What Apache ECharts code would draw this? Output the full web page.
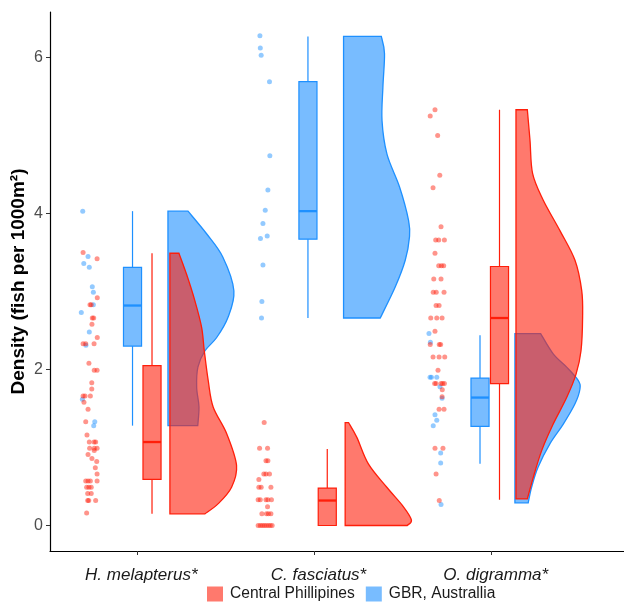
<!DOCTYPE html>
<html>
<head>
<meta charset="utf-8">
<script src="https://cdn.jsdelivr.net/npm/echarts@6/dist/echarts.min.js"></script>
<style>
  html, body { margin: 0; background: #fff; }
  #chart { width: 624px; height: 603px; }
</style>
</head>
<body>
<div id="chart"></div>
<script>
// categories and groups
const categories = ['H. melapterus*', 'C. fasciatus*', 'O. digramma*'];
const groups = ['Central Phillipines', 'GBR, Australlia'];
const yTicks = [0, 2, 4, 6];

// boxplot stats per category: [low, q1, median, q3, high]
const cpBox = [[0.15, 0.59, 1.07, 2.05, 3.49], [0, 0, 0.32, 0.48, 0.98], [0.33, 1.82, 2.66, 3.32, 5.33]];
const gbrBox = [[1.28, 2.30, 2.82, 3.31, 4.03], [2.66, 3.67, 4.03, 5.69, 6.27], [0.79, 1.27, 1.64, 1.89, 2.44]];

// half violin outlines, top to bottom: [density value, width in category units]
const cpViolin = [
  [[3.49, 0.051], [3.22, 0.094], [2.88, 0.141], [2.54, 0.179], [2.24, 0.194], [1.86, 0.216], [1.52, 0.244], [1.18, 0.320], [0.77, 0.376], [0.49, 0.348], [0.28, 0.273], [0.15, 0.198]],
  [[1.32, 0.019], [1.13, 0.066], [0.79, 0.131], [0.49, 0.235], [0.24, 0.329], [0.07, 0.374], [0, 0.350]],
  [[5.33, 0.064], [4.94, 0.079], [4.51, 0.094], [4.17, 0.154], [3.78, 0.248], [3.40, 0.333], [3.01, 0.371], [2.67, 0.376], [2.24, 0.367], [1.94, 0.339], [1.64, 0.286], [1.30, 0.210], [0.96, 0.145], [0.62, 0.098], [0.34, 0.064]]
];
const gbrViolin = [
  [[4.03, 0.113], [3.74, 0.218], [3.44, 0.310], [3.01, 0.372], [2.67, 0.339], [2.41, 0.275], [2.24, 0.209], [2.03, 0.169], [1.77, 0.162], [1.52, 0.175], [1.28, 0.168]],
  [[6.27, 0.213], [6.05, 0.231], [5.62, 0.222], [5.19, 0.217], [4.76, 0.245], [4.34, 0.316], [3.91, 0.367], [3.70, 0.372], [3.40, 0.348], [3.06, 0.292], [2.66, 0.207]],
  [[2.46, 0.145], [2.20, 0.216], [2.03, 0.292], [1.86, 0.357], [1.75, 0.367], [1.56, 0.339], [1.30, 0.273], [1.05, 0.198], [0.75, 0.131], [0.49, 0.094], [0.29, 0.075]]
];

// jittered raw points [x, density]
const cpPoints = [
  [0.694, 3.50], [0.773, 3.42], [0.774, 2.92], [0.733, 2.83], [0.740, 2.83], [0.746, 2.66], [0.754, 2.66], [0.744, 2.58],
  [0.774, 2.41], [0.694, 2.33], [0.709, 2.33], [0.756, 2.33], [0.727, 2.08], [0.757, 1.99], [0.773, 1.99], [0.743, 1.83],
  [0.743, 1.75], [0.694, 1.66], [0.705, 1.66], [0.735, 1.66], [0.699, 1.58], [0.722, 1.49], [0.709, 1.33], [0.716, 1.16],
  [0.729, 1.07], [0.756, 1.07], [0.765, 1.07], [0.731, 0.99], [0.757, 0.99], [0.773, 0.99], [0.757, 0.96], [0.722, 0.91],
  [0.744, 0.86], [0.771, 0.82], [0.763, 0.74], [0.773, 0.66], [0.709, 0.57], [0.722, 0.57], [0.735, 0.57], [0.773, 0.57],
  [0.714, 0.49], [0.727, 0.49], [0.740, 0.49], [0.720, 0.41], [0.740, 0.41], [0.720, 0.32], [0.726, 0.32], [0.765, 0.32],
  [0.714, 0.16],
  [1.716, 1.32], [1.690, 0.99], [1.735, 0.99], [1.726, 0.83], [1.737, 0.83], [1.714, 0.66], [1.726, 0.66], [1.746, 0.66],
  [1.686, 0.59], [1.686, 0.49], [1.699, 0.49], [1.754, 0.49], [1.682, 0.33], [1.694, 0.33], [1.726, 0.33], [1.737, 0.33],
  [1.757, 0.33], [1.735, 0.24], [1.703, 0.15], [1.729, 0.15], [1.740, 0.15], [1.754, 0.15],
  [1.682, 0], [1.694, 0], [1.705, 0], [1.716, 0], [1.727, 0], [1.739, 0], [1.750, 0], [1.761, 0],
  [2.680, 5.33], [2.653, 5.25], [2.695, 5.00], [2.707, 4.49], [2.669, 4.33], [2.714, 3.83], [2.684, 3.66], [2.701, 3.66],
  [2.733, 3.66], [2.680, 3.49], [2.701, 3.33], [2.716, 3.33], [2.729, 3.33], [2.673, 3.16], [2.714, 3.16], [2.670, 2.99],
  [2.687, 2.99], [2.731, 2.99], [2.686, 2.82], [2.703, 2.82], [2.656, 2.66], [2.690, 2.66], [2.720, 2.66], [2.680, 2.49],
  [2.653, 2.32], [2.704, 2.32], [2.712, 2.32], [2.669, 2.16], [2.703, 2.16], [2.735, 2.16], [2.697, 1.99], [2.678, 1.82],
  [2.686, 1.82], [2.714, 1.82], [2.723, 1.82], [2.733, 1.82], [2.721, 1.74], [2.720, 1.65], [2.703, 1.49], [2.731, 1.49],
  [2.680, 0.99], [2.725, 0.99], [2.686, 0.66], [2.704, 0.32]
];
const gbrPoints = [
  [0.692, 4.03], [0.722, 3.45], [0.698, 3.36], [0.729, 3.31], [0.746, 3.06], [0.752, 2.99], [0.752, 2.83], [0.684, 2.73],
  [0.729, 2.48], [0.710, 2.31], [0.690, 1.62], [0.760, 1.33], [0.754, 1.28],
  [1.692, 6.28], [1.694, 6.12], [1.699, 6.03], [1.746, 5.69], [1.748, 4.74], [1.737, 4.30], [1.722, 4.04], [1.709, 3.87],
  [1.733, 3.71], [1.695, 3.68], [1.709, 3.34], [1.703, 2.87], [1.701, 2.66],
  [2.646, 2.46], [2.654, 2.35], [2.652, 1.90], [2.660, 1.90], [2.690, 1.90], [2.708, 1.78], [2.720, 1.63], [2.680, 1.42],
  [2.690, 1.35], [2.670, 1.28], [2.712, 0.93], [2.712, 0.80], [2.714, 0.27]
];

// colours and layout
const cpLine = '#ff1e0a', cpFill = 'rgba(255,32,12,0.6)';
const gbrLine = '#1e90ff', gbrFill = 'rgba(30,144,255,0.6)';
const boxHalf = 0.051;
const cpBoxOff = [0.083, 0.072, 0.044], gbrBoxOff = [-0.027, -0.037, -0.066];
const cpViolinOff = [0.184, 0.173, 0.137], gbrViolinOff = [0.173, 0.164, 0.131];

function smoothEdge(pts) {
  // catmull-rom through the outline points, as cubic beziers
  let d = '';
  for (let k = 0; k < pts.length - 1; k++) {
    const p0 = pts[Math.max(k - 1, 0)], p1 = pts[k], p2 = pts[k + 1], p3 = pts[Math.min(k + 2, pts.length - 1)];
    const c1 = [p1[0] + (p2[0] - p0[0]) / 6, p1[1] + (p2[1] - p0[1]) / 6];
    const c2 = [p2[0] - (p3[0] - p1[0]) / 6, p2[1] - (p3[1] - p1[1]) / 6];
    d += 'C' + c1[0] + ',' + c1[1] + ' ' + c2[0] + ',' + c2[1] + ' ' + p2[0] + ',' + p2[1];
  }
  return d;
}

function violinSeries(name, profiles, offs, line, fill) {
  return {
    type: 'custom', name: name, z: 2,
    itemStyle: { color: fill },
    data: profiles.map((p, i) => [i + 1, p[0][0]]),
    renderItem: function (params, api) {
      const i = params.dataIndex;
      const prof = profiles[i];
      const bx = i + 1 + offs[i];
      const pts = prof.map(d => api.coord([bx + d[1], d[0]]));
      const top = api.coord([bx, prof[0][0]]);
      const bot = api.coord([bx, prof[prof.length - 1][0]]);
      const path = 'M' + top[0] + ',' + top[1] + 'L' + pts[0][0] + ',' + pts[0][1] +
        smoothEdge(pts) + 'L' + bot[0] + ',' + bot[1] + 'Z';
      return { type: 'path', shape: { pathData: path }, style: { fill: fill, stroke: line, lineWidth: 1.3 } };
    }
  };
}

function boxSeries(name, stats, offs, line, fill) {
  return {
    type: 'custom', name: name, z: 3,
    itemStyle: { color: fill },
    data: stats.map((s, i) => [i + 1, s[2]]),
    renderItem: function (params, api) {
      const i = params.dataIndex;
      const s = stats[i];
      const cx = i + 1 + offs[i];
      const p = s.map(v => api.coord([cx, v]));
      const xl = api.coord([cx - boxHalf, 0])[0], xr = api.coord([cx + boxHalf, 0])[0];
      const ln = { stroke: line, lineWidth: 1.2 };
      return {
        type: 'group', children: [
          { type: 'line', shape: { x1: p[0][0], y1: p[0][1], x2: p[1][0], y2: p[1][1] }, style: ln },
          { type: 'line', shape: { x1: p[3][0], y1: p[3][1], x2: p[4][0], y2: p[4][1] }, style: ln },
          { type: 'rect', shape: { x: xl, y: p[3][1], width: xr - xl, height: p[1][1] - p[3][1] }, style: { fill: fill, stroke: line, lineWidth: 1.2 } },
          { type: 'line', shape: { x1: xl, y1: p[2][1], x2: xr, y2: p[2][1] }, style: { stroke: line, lineWidth: 2.3 } }
        ]
      };
    }
  };
}

let mychart = echarts.init(document.getElementById('chart'));
mychart.setOption({
  animation: false,
  grid: { left: 50, right: 0, top: 12, bottom: 52 },
  legend: {
    data: groups,
    left: 207, top: 586, padding: 0,
    icon: 'rect', itemWidth: 16, itemHeight: 15, itemGap: 11,
    itemStyle: { borderWidth: 0 },
    textStyle: { fontFamily: 'Liberation Sans', fontSize: 15.6, color: '#1a1a1a', padding: [0, 0, 0, 2] }
  },
  xAxis: {
    type: 'value', min: 0.5073, max: 3.7466,
    splitLine: { show: false },
    axisLine: { show: true, onZero: false, lineStyle: { color: '#000', width: 1.2 } },
    axisTick: { show: true, length: 4, customValues: [1, 2, 3], lineStyle: { color: '#333' } },
    axisLabel: {
      customValues: [1, 2, 3], margin: 16, padding: [0, 0, 0, 8],
      formatter: v => categories[Math.round(v) - 1] || '',
      fontFamily: 'Liberation Sans', fontStyle: 'italic', fontSize: 17, color: '#1a1a1a'
    }
  },
  yAxis: {
    type: 'value', min: -0.327, max: 6.583,
    name: 'Density (fish per 1000m²)', nameLocation: 'middle', nameGap: 22, nameMoveOverlap: false,
    nameTextStyle: { fontFamily: 'Liberation Sans', fontWeight: 'bold', fontSize: 19, color: '#000' },
    splitLine: { show: false },
    axisLine: { show: true, onZero: false, lineStyle: { color: '#000', width: 1.2 } },
    axisTick: { show: true, length: 4, customValues: yTicks, lineStyle: { color: '#333' } },
    axisLabel: { customValues: yTicks, margin: 7, fontFamily: 'Liberation Sans', fontSize: 16, color: '#4d4d4d' }
  },
  series: [
    violinSeries(groups[1], gbrViolin, gbrViolinOff, gbrLine, gbrFill),
    violinSeries(groups[0], cpViolin, cpViolinOff, cpLine, cpFill),
    boxSeries(groups[1], gbrBox, gbrBoxOff, gbrLine, gbrFill),
    boxSeries(groups[0], cpBox, cpBoxOff, cpLine, cpFill),
    { type: 'scatter', name: groups[1], data: gbrPoints, symbolSize: 5, itemStyle: { color: gbrFill }, z: 4 },
    { type: 'scatter', name: groups[0], data: cpPoints, symbolSize: 5, itemStyle: { color: cpFill }, z: 4 }
  ]
});
</script>
</body>
</html>
